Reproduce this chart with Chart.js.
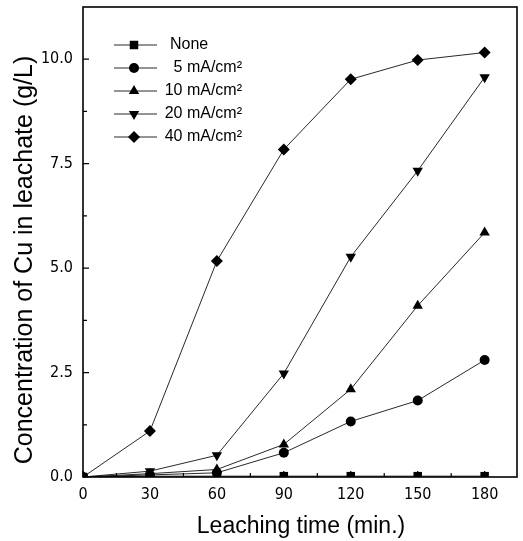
<!DOCTYPE html>
<html>
<head>
<meta charset="utf-8">
<script src="https://cdn.jsdelivr.net/npm/chart.js@4.4.1/dist/chart.umd.min.js"></script>
<style>
  html, body { margin: 0; padding: 0; background: #fff; }
  #wrap { width: 523px; height: 541px; position: relative; }
</style>
</head>
<body>
<div id="wrap"><canvas id="chart"></canvas></div>
<script>
const times = [0, 30, 60, 90, 120, 150, 180];
const none = [0, 0.02, 0.02, 0.02, 0.02, 0.02, 0.02];
const cd5 = [0, 0.05, 0.1, 0.58, 1.33, 1.83, 2.8];
const cd10 = [0, 0.08, 0.18, 0.78, 2.1, 4.1, 5.85];
const cd20 = [0, 0.14, 0.52, 2.48, 5.27, 7.33, 9.57];
const cd40 = [0, 1.1, 5.17, 7.84, 9.52, 9.98, 10.16];

const xTicks = [0, 30, 60, 90, 120, 150, 180];
const xMinor = [15, 45, 75, 105, 135, 165];
const yTicks = [0, 2.5, 5, 7.5, 10];
const yMinor = [1.25, 3.75, 6.25, 8.75];

const labels = ["None", "5 mA/cm\u00B2", "10 mA/cm\u00B2", "20 mA/cm\u00B2", "40 mA/cm\u00B2"];
const seriesValues = [none, cd5, cd10, cd20, cd40];
const xTitle = "Leaching time (min.)";
const yTitle = "Concentration of Cu in leachate (g/L)";

const styles = [
  { pointStyle: "rect", radius: 6, rotation: 0 },
  { pointStyle: "circle", radius: 5, rotation: 0 },
  { pointStyle: "triangle", radius: 6, rotation: 0 },
  { pointStyle: "triangle", radius: 6, rotation: 180 },
  { pointStyle: "rectRot", radius: 6, rotation: 0 },
];

const SANS = "'Liberation Sans', Arial, sans-serif";
const NARROW = "'Liberation Sans Narrow', 'Arial Narrow', 'DejaVu Sans Condensed', sans-serif";

const datasets = seriesValues.map((vals, i) => ({
  label: labels[i],
  data: times.map((t, j) => ({ x: t, y: vals[j] })),
  borderColor: "#111",
  borderWidth: 0.9,
  backgroundColor: "#000",
  pointBackgroundColor: "#000",
  pointBorderColor: "#000",
  pointStyle: styles[i].pointStyle,
  pointRadius: styles[i].radius,
  pointRotation: styles[i].rotation,
  pointBorderWidth: 0,
  tension: 0,
}));

// frame, inward ticks, axis titles and legend
const decor = {
  id: "decor",
  afterDraw(chart) {
    const { ctx, chartArea: a, scales } = chart;
    const x = scales.x, y = scales.y;
    ctx.save();
    ctx.strokeStyle = "#000";
    ctx.lineWidth = 1.6;
    ctx.strokeRect(a.left, a.top, a.right - a.left, a.bottom - a.top);
    ctx.lineWidth = 1.2;
    ctx.beginPath();
    xTicks.forEach(v => { const px = x.getPixelForValue(v); ctx.moveTo(px, a.bottom); ctx.lineTo(px, a.bottom - 6); });
    xMinor.forEach(v => { const px = x.getPixelForValue(v); ctx.moveTo(px, a.bottom); ctx.lineTo(px, a.bottom - 4); });
    yTicks.forEach(v => { const py = y.getPixelForValue(v); ctx.moveTo(a.left, py); ctx.lineTo(a.left + 6, py); });
    yMinor.forEach(v => { const py = y.getPixelForValue(v); ctx.moveTo(a.left, py); ctx.lineTo(a.left + 4, py); });
    ctx.stroke();

    // axis titles
    ctx.fillStyle = "#000";
    ctx.textBaseline = "alphabetic";
    ctx.textAlign = "center";
    ctx.font = "23px " + SANS;
    ctx.fillText(xTitle, (a.left + a.right) / 2 + 1, 533);
    ctx.save();
    ctx.translate(32, 260);
    ctx.rotate(-Math.PI / 2);
    ctx.font = "25px " + SANS;
    ctx.fillText(yTitle, 0, 0);
    ctx.restore();

    // legend
    const rowY = [45, 68, 91, 114, 137];
    ctx.font = "16px " + SANS;
    ctx.textBaseline = "middle";
    chart.data.datasets.forEach((ds, i) => {
      const yy = rowY[i];
      ctx.strokeStyle = "#111";
      ctx.lineWidth = 0.9;
      ctx.beginPath();
      ctx.moveTo(114, yy); ctx.lineTo(157, yy);
      ctx.stroke();
      ctx.fillStyle = "#000";
      Chart.helpers.drawPoint(ctx, {
        pointStyle: ds.pointStyle,
        radius: ds.pointRadius,
        rotation: ds.pointRotation,
        borderWidth: 0,
      }, 134, yy);
      ctx.fillStyle = "#000";
      if (i === 0) { ctx.textAlign = "left"; ctx.fillText(ds.label, 170, yy); }
      else { ctx.textAlign = "right"; ctx.fillText(ds.label, 242, yy); }
    });
    ctx.restore();
  }
};

Chart.defaults.font.family = SANS;
Chart.defaults.color = "#000";

new Chart(document.getElementById("chart"), {
  type: "line",
  data: { datasets },
  options: {
    responsive: true,
    maintainAspectRatio: false,
    animation: false,
    layout: { padding: { top: 7, right: 6, left: 0, bottom: 0 } },
    plugins: { legend: { display: false }, tooltip: { enabled: false } },
    elements: { line: { fill: false } },
    scales: {
      x: {
        type: "linear",
        min: 0,
        max: 194.5,
        afterBuildTicks: s => { s.ticks = xTicks.map(v => ({ value: v })); },
        afterFit: s => { s.height = 64; s.paddingLeft = 0; s.paddingRight = 0; },
        grid: { display: false, drawTicks: false },
        border: { display: false },
        ticks: { padding: 8, font: { size: 16, family: NARROW }, maxRotation: 0 },
        title: { display: false },
      },
      y: {
        type: "linear",
        min: 0,
        max: 11.25,
        afterBuildTicks: s => { s.ticks = yTicks.map(v => ({ value: v })); },
        afterFit: s => { s.width = 83; s.paddingTop = 0; s.paddingBottom = 0; },
        grid: { display: false, drawTicks: false },
        border: { display: false },
        ticks: { padding: 10, font: { size: 16, family: NARROW }, callback: v => v.toFixed(1) },
        title: { display: false },
      },
    },
  },
  plugins: [decor],
});
</script>
</body>
</html>
